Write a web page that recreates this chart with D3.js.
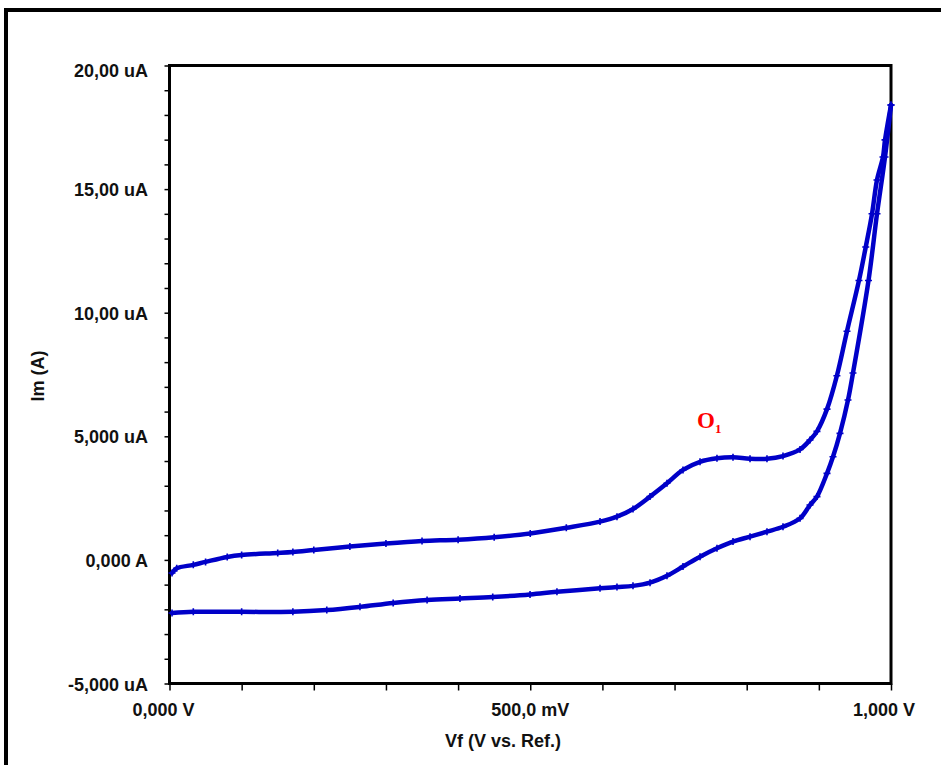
<!DOCTYPE html>
<html><head><meta charset="utf-8">
<script src="https://cdn.jsdelivr.net/npm/d3@7"></script>
<style>body{margin:0;background:#fff}svg{display:block}</style>
</head><body>
<svg id="c" width="941" height="765"></svg>
<script>
// Forward (anodic) scan: potential V, current uA
const fwdV = [0.0035,0.010,0.033,0.05,0.080,0.10,0.15,0.171,0.20,0.25,0.30,0.35,0.40,0.45,0.50,0.55,0.5967,0.6202,0.6424,0.666,0.6895,0.7117,0.7353,0.7588,0.781,0.8046,0.8281,0.8503,0.8739,0.8877,0.8974,0.9113,0.925,0.939,0.9556,0.965,0.9737,0.9806,0.9889,0.9917,1.0];
const fwdI = [-0.53,-0.34,-0.20,-0.08,0.12,0.20,0.28,0.32,0.40,0.54,0.66,0.76,0.82,0.92,1.07,1.30,1.55,1.75,2.06,2.56,3.10,3.64,3.97,4.11,4.15,4.09,4.09,4.20,4.47,4.85,5.20,6.10,7.45,9.25,11.3,12.66,14.0,15.37,16.3,16.99,18.4];
// Reverse (cathodic) scan
const revV = [1.0,0.9917,0.9806,0.9688,0.9473,0.9404,0.9293,0.9196,0.9113,0.8974,0.8877,0.8739,0.8503,0.8281,0.8046,0.781,0.7588,0.7353,0.7117,0.6895,0.666,0.6424,0.6202,0.5967,0.537,0.4997,0.448,0.4026,0.357,0.31,0.264,0.218,0.171,0.10,0.033,0.0035];
const revI = [18.4,16.3,14.0,11.3,7.56,6.47,5.12,4.17,3.50,2.56,2.22,1.68,1.34,1.14,0.94,0.74,0.47,0.13,-0.27,-0.64,-0.92,-1.05,-1.10,-1.15,-1.29,-1.40,-1.50,-1.56,-1.62,-1.74,-1.90,-2.03,-2.10,-2.10,-2.10,-2.15];
const xTickVals = [0, 0.5, 1.0];
const xTickLabels = ["0,000 V", "500,0 mV", "1,000 V"];
const yTickVals = [20, 15, 10, 5, 0, -5];
const yTickLabels = ["20,00 uA", "15,00 uA", "10,00 uA", "5,000 uA", "0,000 A", "-5,000 uA"];
const xTitle = "Vf (V vs. Ref.)";
const yTitle = "Im (A)";

const svg = d3.select("#c");
const L = 169.5, R = 891, T = 65.5, B = 683.5;
const x = d3.scaleLinear().domain([0, 1]).range([L, R]);
const y = d3.scaleLinear().domain([-5, 20]).range([B, T]);
const font = "'Liberation Sans', Arial, sans-serif";
const txt = "#111";

// outer frame
svg.append("rect").attr("x", 6).attr("y", 10).attr("width", 1000).attr("height", 1000)
  .attr("fill", "none").attr("stroke", "#000").attr("stroke-width", 4);

// axes
const xAxis = d3.axisBottom(x).tickValues(d3.range(0, 1.0001, 0.1)).tickSize(7).tickFormat("");
const gx = svg.append("g").attr("transform", `translate(0,${B})`).call(xAxis);
gx.select(".domain").remove();
gx.selectAll(".tick line").attr("stroke", "#000").attr("stroke-width", 1.5);

const yAxis = d3.axisLeft(y).tickValues(d3.range(-5, 20.001, 1)).tickSize(5).tickFormat("");
const gy = svg.append("g").attr("transform", `translate(${L},0)`).call(yAxis);
gy.select(".domain").remove();
gy.selectAll(".tick line").attr("stroke", "#000").attr("stroke-width", 1.5);

// plot frame
svg.append("rect").attr("x", L).attr("y", T).attr("width", R - L).attr("height", B - T)
  .attr("fill", "none").attr("stroke", "#000").attr("stroke-width", 3);

// tick labels
svg.append("g").selectAll("text").data(xTickVals).join("text")
  .attr("x", (d, i) => x(d) + (i === 0 ? -6 : (i === 2 ? -7 : 0)))
  .attr("y", 716).attr("text-anchor", "middle")
  .attr("font-family", font).attr("font-weight", "bold").attr("font-size", 18).attr("fill", txt)
  .text((d, i) => xTickLabels[i]);
svg.append("g").selectAll("text").data(yTickVals).join("text")
  .attr("x", 148).attr("y", (d, i) => y(d) + (i === 0 ? 11 : 7)).attr("text-anchor", "end")
  .attr("font-family", font).attr("font-weight", "bold").attr("font-size", 18).attr("fill", txt)
  .text((d, i) => yTickLabels[i]);

// titles
svg.append("text").attr("x", 503).attr("y", 747).attr("text-anchor", "middle")
  .attr("font-family", font).attr("font-weight", "bold").attr("font-size", 18).attr("fill", txt).text(xTitle);
svg.append("text").attr("transform", "translate(44,376) rotate(-90)").attr("text-anchor", "middle")
  .attr("font-family", font).attr("font-weight", "bold").attr("font-size", 18).attr("fill", txt).text(yTitle);

// series
const color = "#0000c8";
const series = [d3.zip(fwdV, fwdI), d3.zip(revV, revI)];
const line = d3.line().x(d => x(d[0])).y(d => y(d[1])).curve(d3.curveCatmullRom.alpha(0.5));
svg.append("g").selectAll("path").data(series).join("path")
  .attr("d", line).attr("fill", "none").attr("stroke", color).attr("stroke-width", 4.5)
  .attr("stroke-linejoin", "round").attr("stroke-linecap", "round");
svg.append("g").selectAll("path").data(series.flat()).join("path")
  .attr("d", d => `M${x(d[0]) - 3.5},${y(d[1])}h7M${x(d[0])},${y(d[1]) - 3.5}v7`)
  .attr("stroke", color).attr("stroke-width", 1.6).attr("fill", "none");

// annotation O1
const ann = svg.append("text").attr("x", 697).attr("y", 428)
  .attr("font-family", "'Liberation Serif', 'DejaVu Serif', serif").attr("font-weight", "bold")
  .attr("font-size", 23).attr("fill", "#ff0000");
ann.append("tspan").text("O");
ann.append("tspan").attr("font-size", 13).attr("dy", 5).text("1");
</script>
</body></html>
